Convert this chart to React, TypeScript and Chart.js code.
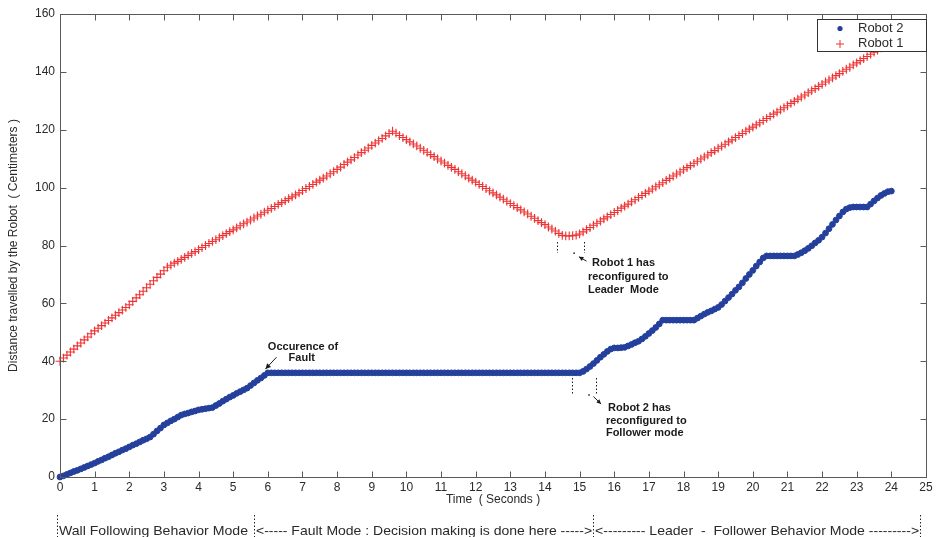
import React, { useEffect, useRef } from "react";
import { Chart, registerables } from "chart.js";

Chart.register(...registerables);

// ---- data (sampled every T_STEP seconds, starting at t = 0) ----
const T_STEP = 0.1;

const robot1: number[] = [
  40.0, 41.1, 42.1, 43.2, 44.2, 45.3, 46.3, 47.4, 48.4, 49.5,
  50.5, 51.4, 52.3, 53.2, 54.1, 55.0, 55.9, 56.8, 57.7, 58.6,
  59.5, 60.7, 61.9, 63.0, 64.2, 65.4, 66.6, 67.8, 69.0, 70.1,
  71.3, 72.5, 73.2, 73.9, 74.5, 75.2, 75.9, 76.6, 77.3, 77.9,
  78.6, 79.3, 80.0, 80.7, 81.4, 82.0, 82.7, 83.4, 84.1, 84.8,
  85.4, 86.1, 86.8, 87.5, 88.1, 88.8, 89.5, 90.2, 90.8, 91.5,
  92.2, 92.8, 93.5, 94.2, 94.8, 95.5, 96.2, 96.8, 97.5, 98.2,
  99.0, 99.7, 100.4, 101.1, 101.9, 102.6, 103.3, 104.0, 104.8, 105.5,
  106.3, 107.1, 108.0, 108.8, 109.6, 110.4, 111.3, 112.1, 112.9, 113.7,
  114.6, 115.4, 116.2, 117.0, 117.9, 118.7, 119.5, 118.8, 118.0, 117.3,
  116.6, 115.8, 115.1, 114.4, 113.6, 112.9, 112.2, 111.4, 110.7, 109.9,
  109.2, 108.5, 107.7, 107.0, 106.3, 105.5, 104.8, 104.1, 103.3, 102.6,
  101.9, 101.1, 100.4, 99.7, 98.9, 98.2, 97.5, 96.7, 96.0, 95.3,
  94.5, 93.8, 93.1, 92.3, 91.6, 90.9, 90.1, 89.4, 88.6, 87.9,
  87.2, 86.4, 85.7, 85.0, 84.2, 83.5, 83.3, 83.3, 83.4, 83.6,
  84.0, 84.7, 85.5, 86.2, 87.0, 87.7, 88.4, 89.2, 89.9, 90.7,
  91.4, 92.1, 92.9, 93.6, 94.3, 95.1, 95.8, 96.6, 97.3, 98.0,
  98.8, 99.5, 100.3, 101.0, 101.7, 102.5, 103.2, 104.0, 104.7, 105.4,
  106.2, 106.9, 107.6, 108.4, 109.1, 109.9, 110.6, 111.3, 112.1, 112.8,
  113.6, 114.3, 115.0, 115.8, 116.5, 117.3, 118.0, 118.7, 119.5, 120.2,
  120.9, 121.7, 122.4, 123.2, 123.9, 124.6, 125.4, 126.1, 126.9, 127.6,
  128.3, 129.1, 129.8, 130.6, 131.3, 132.0, 132.8, 133.5, 134.2, 135.0,
  135.7, 136.5, 137.2, 137.9, 138.7, 139.4, 140.2, 140.9, 141.6, 142.4,
  143.1, 143.9, 144.6, 145.3, 146.1, 146.8, 147.5, 148.3, 149.0, 149.8,
  150.5,
];

const robot2: number[] = [
  0.0, 0.4, 0.9, 1.4, 1.9, 2.3, 2.8, 3.3, 3.8, 4.3,
  4.8, 5.4, 5.9, 6.5, 7.0, 7.6, 8.2, 8.7, 9.3, 9.8,
  10.4, 11.0, 11.5, 12.1, 12.7, 13.2, 13.8, 14.8, 15.9, 16.9,
  18.0, 18.7, 19.4, 20.0, 20.7, 21.4, 21.8, 22.1, 22.5, 22.8,
  23.2, 23.4, 23.6, 23.8, 24.0, 24.7, 25.4, 26.2, 26.9, 27.6,
  28.2, 28.9, 29.5, 30.1, 30.7, 31.6, 32.5, 33.4, 34.2, 35.1,
  36, 36, 36, 36, 36, 36, 36, 36, 36, 36,
  36, 36, 36, 36, 36, 36, 36, 36, 36, 36,
  36, 36, 36, 36, 36, 36, 36, 36, 36, 36,
  36, 36, 36, 36, 36, 36, 36, 36, 36, 36,
  36, 36, 36, 36, 36, 36, 36, 36, 36, 36,
  36, 36, 36, 36, 36, 36, 36, 36, 36, 36,
  36, 36, 36, 36, 36, 36, 36, 36, 36, 36,
  36, 36, 36, 36, 36, 36, 36, 36, 36, 36,
  36, 36, 36, 36, 36, 36, 36, 36, 36, 36,
  36.0, 36.5, 37.3, 38.2, 39.2, 40.3, 41.4, 42.4, 43.4, 44.2,
  44.6, 44.6, 44.7, 44.8, 45.3, 45.8, 46.4, 46.9, 47.7, 48.6,
  49.6, 50.6, 51.7, 52.9, 54.2, 54.2, 54.2, 54.2, 54.2, 54.2,
  54.2, 54.2, 54.2, 54.2, 54.9, 55.6, 56.3, 56.9, 57.4, 58.0,
  58.6, 59.6, 60.8, 62.0, 63.2, 64.5, 65.7, 67.1, 68.6, 70.0,
  71.4, 72.9, 74.3, 75.7, 76.4, 76.4, 76.4, 76.4, 76.4, 76.4,
  76.4, 76.4, 76.4, 76.9, 77.5, 78.2, 79.0, 79.9, 80.9, 81.8,
  82.9, 84.3, 85.8, 87.3, 88.8, 90.2, 91.6, 92.6, 93.1, 93.3,
  93.3, 93.3, 93.3, 93.3, 94.3, 95.4, 96.4, 97.3, 98.0, 98.6,
  98.8,
];

const X_MIN = 0;
const X_MAX = 25;
const X_STEP = 1;
const Y_MIN = 0;
const Y_MAX = 160;
const Y_STEP = 20;

const SERIES_NAMES = ["Robot 2", "Robot 1"];
const X_TITLE = "Time  ( Seconds )";
const Y_TITLE = "Distance travelled by the Robot  ( Centimeters )";

const FAULT_TEXT = ["Occurence of", "Fault"];
const ROBOT1_TEXT = ["Robot 1 has", "reconfigured to", "Leader  Mode"];
const ROBOT2_TEXT = ["Robot 2 has", "reconfigured to", "Follower mode"];

const MODE_LABELS = [
  "Wall Following Behavior Mode",
  "<----- Fault Mode : Decision making is done here ----->",
  "<--------- Leader  -  Follower Behavior Mode --------->",
];
// mode boundaries (seconds)
const MODE_BOUNDS = [-0.09, 5.6, 15.39, 24.83];

const RED = "rgb(240,50,50)";
const BLUE = "rgb(36,64,156)";
const AXIS = "#5a5a5a";
const TEXT = "#2a2a2a";
const FONT = "'Liberation Sans', Arial, Helvetica, sans-serif";

function arrow(ctx: CanvasRenderingContext2D, x1: number, y1: number, x2: number, y2: number, head = 6) {
  ctx.beginPath();
  ctx.moveTo(x1, y1);
  ctx.lineTo(x2, y2);
  ctx.stroke();
  const a = Math.atan2(y2 - y1, x2 - x1);
  ctx.beginPath();
  ctx.moveTo(x2, y2);
  ctx.lineTo(x2 - head * Math.cos(a - 0.45), y2 - head * Math.sin(a - 0.45));
  ctx.lineTo(x2 - head * Math.cos(a + 0.45), y2 - head * Math.sin(a + 0.45));
  ctx.closePath();
  ctx.fill();
}

const framePlugin = {
  id: "framePlugin",
  afterDraw(chart: any) {
    const { ctx, chartArea } = chart;
    const xs = chart.scales.x;
    const ys = chart.scales.y;
    const px = (t: number) => xs.getPixelForValue(t);
    const py = (v: number) => ys.getPixelForValue(v);
    const L = Math.round(chartArea.left) + 0.5;
    const R = Math.round(chartArea.right) + 0.5;
    const T = Math.round(chartArea.top) + 0.5;
    const B = Math.round(chartArea.bottom) + 0.5;

    ctx.save();
    // box
    ctx.strokeStyle = AXIS;
    ctx.lineWidth = 1;
    ctx.setLineDash([]);
    ctx.strokeRect(L, T, R - L, B - T);
    // inward ticks
    ctx.beginPath();
    for (let t = X_MIN; t <= X_MAX; t += X_STEP) {
      const x = Math.round(px(t)) + 0.5;
      ctx.moveTo(x, B);
      ctx.lineTo(x, B - 6);
      ctx.moveTo(x, T);
      ctx.lineTo(x, T + 6);
    }
    for (let v = Y_MIN; v <= Y_MAX; v += Y_STEP) {
      const y = Math.round(py(v)) + 0.5;
      ctx.moveTo(L, y);
      ctx.lineTo(L + 6, y);
      ctx.moveTo(R, y);
      ctx.lineTo(R - 6, y);
    }
    ctx.stroke();

    // legend
    const lx = 817.5, ly = 19.5, lw = 109, lh = 32;
    ctx.fillStyle = "#fff";
    ctx.fillRect(lx, ly, lw, lh);
    ctx.strokeStyle = "#333";
    ctx.strokeRect(lx, ly, lw, lh);
    ctx.font = `13px ${FONT}`;
    ctx.textBaseline = "middle";
    ctx.textAlign = "left";
    ctx.fillStyle = TEXT;
    ctx.fillText(SERIES_NAMES[0], 858, ly + 9);
    ctx.fillText(SERIES_NAMES[1], 858, ly + 24);
    ctx.fillStyle = BLUE;
    ctx.beginPath();
    ctx.arc(840, ly + 9, 2.6, 0, Math.PI * 2);
    ctx.fill();
    ctx.strokeStyle = RED;
    ctx.beginPath();
    ctx.moveTo(836, ly + 24.5);
    ctx.lineTo(844, ly + 24.5);
    ctx.moveTo(840, ly + 20.5);
    ctx.lineTo(840, ly + 28.5);
    ctx.stroke();

    // annotations
    ctx.fillStyle = "#1a1a1a";
    ctx.strokeStyle = "#1a1a1a";
    ctx.font = `bold 11px ${FONT}`;
    ctx.textBaseline = "middle";
    // fault
    ctx.fillText(FAULT_TEXT[0], px(6.0), py(44.9));
    ctx.fillText(FAULT_TEXT[1], px(6.6), py(41.1));
    ctx.lineWidth = 1;
    arrow(ctx, px(6.25), py(41.4), px(5.93), py(37.3), 6);

    // robot 1
    ctx.fillText(ROBOT1_TEXT[0], px(15.36), py(73.9));
    ctx.fillText(ROBOT1_TEXT[1], px(15.24), py(69.1));
    ctx.fillText(ROBOT1_TEXT[2], px(15.24), py(64.6));
    ctx.setLineDash([1.5, 2]);
    ctx.beginPath();
    ctx.moveTo(Math.round(px(14.35)) + 0.5, py(81.2));
    ctx.lineTo(Math.round(px(14.35)) + 0.5, py(77.4));
    ctx.moveTo(Math.round(px(15.13)) + 0.5, py(81.2));
    ctx.lineTo(Math.round(px(15.13)) + 0.5, py(77.4));
    ctx.stroke();
    ctx.setLineDash([]);
    ctx.fillRect(px(14.82), py(77.6), 1.5, 1.5);
    arrow(ctx, px(15.2), py(74.6), px(14.98), py(76.1), 5);

    // robot 2
    ctx.fillText(ROBOT2_TEXT[0], px(15.82), py(23.8));
    ctx.fillText(ROBOT2_TEXT[1], px(15.76), py(19.4));
    ctx.fillText(ROBOT2_TEXT[2], px(15.76), py(15.2));
    ctx.setLineDash([1.5, 2]);
    ctx.beginPath();
    ctx.moveTo(Math.round(px(14.78)) + 0.5, py(34.2));
    ctx.lineTo(Math.round(px(14.78)) + 0.5, py(28.3));
    ctx.moveTo(Math.round(px(15.47)) + 0.5, py(34.2));
    ctx.lineTo(Math.round(px(15.47)) + 0.5, py(28.3));
    ctx.stroke();
    ctx.setLineDash([]);
    ctx.fillRect(px(15.25), py(28.6), 1.5, 1.5);
    arrow(ctx, px(15.4), py(27.8), px(15.62), py(25.2), 5);

    // mode labels under the axis
    ctx.font = `13px ${FONT}`;
    ctx.fillStyle = TEXT;
    ctx.strokeStyle = "#222";
    ctx.textBaseline = "middle";
    const yText = chartArea.bottom + 54;
    ctx.setLineDash([1.5, 2]);
    ctx.beginPath();
    for (const b of MODE_BOUNDS) {
      const x = Math.round(px(b)) + 0.5;
      ctx.moveTo(x, chartArea.bottom + 38);
      ctx.lineTo(x, chartArea.bottom + 60);
    }
    ctx.stroke();
    ctx.setLineDash([]);
    for (let i = 0; i < MODE_LABELS.length; i++) {
      const x0 = px(MODE_BOUNDS[i]) + 2;
      const x1 = px(MODE_BOUNDS[i + 1]) - (i === 0 ? 6 : 1);
      const w = ctx.measureText(MODE_LABELS[i]).width;
      const sc = Math.min(1.1, (x1 - x0) / w);
      ctx.save();
      ctx.translate(x0, yText);
      ctx.scale(sc, 1);
      ctx.fillText(MODE_LABELS[i], 0, 0);
      ctx.restore();
    }
    ctx.restore();
  },
};

export default function App() {
  const ref = useRef<HTMLCanvasElement>(null);

  useEffect(() => {
    const canvas = ref.current;
    if (!canvas) return;
    Chart.defaults.font.family = FONT;
    const chart = new Chart(canvas, {
      type: "scatter",
      data: {
        datasets: [
          {
            label: SERIES_NAMES[0],
            data: robot2.map((v, i) => ({ x: i * T_STEP, y: v })),
            pointStyle: "circle",
            pointRadius: 2.9,
            backgroundColor: BLUE,
            borderColor: BLUE,
            borderWidth: 1,
            clip: false,
          } as any,
          {
            label: SERIES_NAMES[1],
            data: robot1.map((v, i) => ({ x: i * T_STEP, y: v })),
            pointStyle: "cross",
            pointRadius: 4.4,
            backgroundColor: RED,
            borderColor: RED,
            borderWidth: 1.1,
            clip: false,
          } as any,
        ],
      },
      options: {
        responsive: false,
        animation: false,
        devicePixelRatio: 1,
        events: [],
        layout: { padding: { top: 14, right: 13, bottom: 25, left: 0 } },
        plugins: {
          legend: { display: false },
          tooltip: { enabled: false },
        },
        scales: {
          x: {
            type: "linear",
            min: X_MIN,
            max: X_MAX,
            afterFit: (s: any) => {
              s.height = 35;
            },
            grid: { display: false, drawTicks: false },
            border: { display: false },
            ticks: {
              stepSize: X_STEP,
              autoSkip: false,
              maxRotation: 0,
              padding: 3,
              color: TEXT,
              font: { size: 12 },
            },
            title: {
              display: true,
              text: X_TITLE,
              color: TEXT,
              font: { size: 12 },
              padding: { top: 0, bottom: 5 },
            },
          },
          y: {
            type: "linear",
            min: Y_MIN,
            max: Y_MAX,
            afterFit: (s: any) => {
              s.width = 60;
            },
            grid: { display: false, drawTicks: false },
            border: { display: false },
            ticks: {
              stepSize: Y_STEP,
              padding: 5,
              color: TEXT,
              font: { size: 12 },
            },
            title: {
              display: true,
              text: Y_TITLE,
              color: TEXT,
              font: { size: 12 },
              padding: { top: 6, bottom: 0 },
            },
          },
        },
      } as any,
      plugins: [framePlugin],
    });
    return () => chart.destroy();
  }, []);

  return (
    <div style={{ position: "absolute", left: 0, top: 0, width: 939, height: 537, background: "#fff" }}>
      <canvas ref={ref} width={939} height={537} style={{ display: "block" }} />
    </div>
  );
}
